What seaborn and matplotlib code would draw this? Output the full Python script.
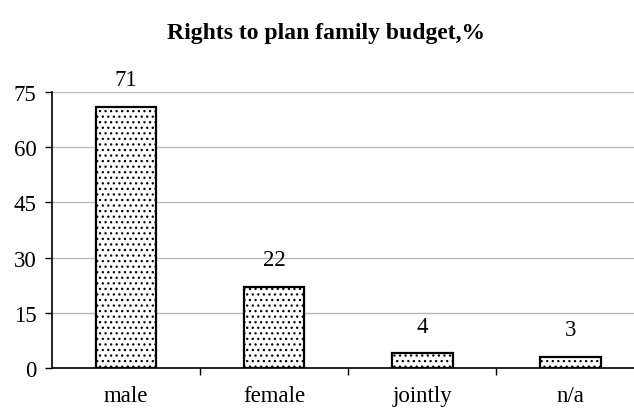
import matplotlib
matplotlib.use("Agg")
import matplotlib.pyplot as plt
import seaborn as sns
import pandas as pd

categories = ["male", "female", "jointly", "n/a"]
values = [71, 22, 4, 3]
yticks = [0, 15, 30, 45, 60, 75]
title = "Rights to plan family budget,%"

sns.set_theme(style="white")
plt.rcParams["font.family"] = ["Liberation Serif", "DejaVu Serif"]
plt.rcParams["hatch.linewidth"] = 0.9
plt.rcParams["hatch.color"] = "#333333"

df = pd.DataFrame({"cat": categories, "val": values})

fig = plt.figure(figsize=(6.34, 4.10), dpi=100)
ax = fig.add_axes([52/634, 1-369/410, 1-52/634, (369-93)/410])

sns.barplot(data=df, x="cat", y="val", color="white", edgecolor="black",
            linewidth=1.6, width=0.41, ax=ax, saturation=1)
for p in ax.patches:
    p.set_hatch("...")

ax.set_ylim(0, 75)
ax.set_xlim(-0.5, 3.43)
ax.set_yticks(yticks)
ax.yaxis.grid(True, color="#b8b8b8", linewidth=1)
ax.set_axisbelow(True)
ax.set_xlabel("")
ax.set_ylabel("")
for s in ["top", "right"]:
    ax.spines[s].set_visible(False)
for s in ["left", "bottom"]:
    ax.spines[s].set_color("black")
    ax.spines[s].set_linewidth(1.2)

fs = 16.5
ax.tick_params(axis="x", which="major", length=0, pad=12, labelsize=fs, colors="black")
ax.set_xticks([0.5, 1.5, 2.5], minor=True)
ax.tick_params(axis="x", which="minor", length=5, width=1, direction="out", color="black", bottom=True)
ax.tick_params(axis="y", length=5, width=1, direction="out", left=True, labelsize=fs, colors="black", pad=6)

for i, v in enumerate(values):
    ax.annotate(str(v), (i, v), xytext=(0, 12), textcoords="offset points",
                ha="center", va="bottom", fontsize=fs, color="black")

fig.text(0.515, 1-33/410, title, ha="center", va="center", fontsize=17, fontweight="bold", color="black")

fig.savefig("out.png", dpi=100)
